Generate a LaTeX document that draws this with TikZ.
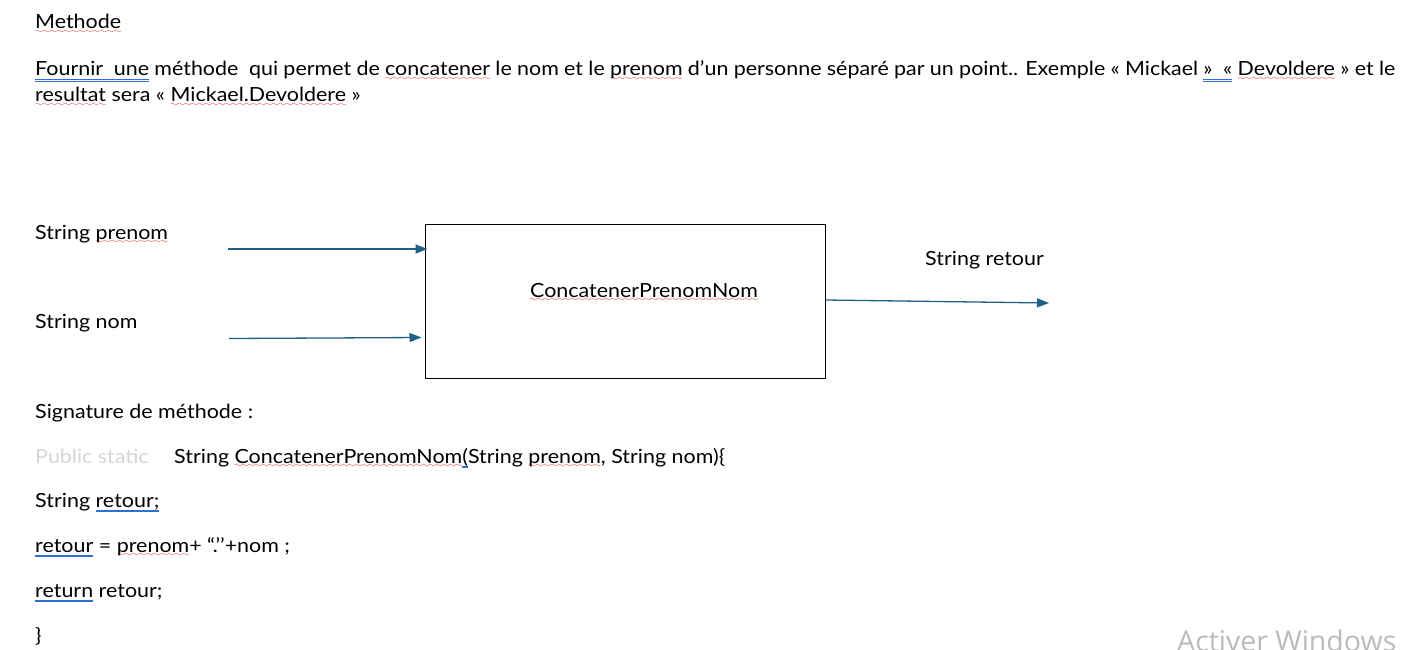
\documentclass[tikz,border=0pt]{standalone}
\usepackage{fontspec}
\setmainfont[FakeStretch=1.1]{Lato}
\newfontfamily\winfont{Open Sans}
\usetikzlibrary{arrows.meta}
\definecolor{arrowblue}{HTML}{1F6085}
\definecolor{ublue}{HTML}{2F6FD8}
\definecolor{wred}{HTML}{E02020}
\definecolor{paleg}{HTML}{D6D6D6}
\definecolor{wing}{HTML}{BBBBBB}
\font\wavefont=lasy6 at 8pt
\newsavebox\wbox
\newcommand\rw[1]{\sbox\wbox{#1}\rlap{\textcolor{wred}{\raisebox{-4.5pt}[0pt][0pt]{\hbox to \wd\wbox{\xleaders\hbox{\wavefont\char58}\hfill}}}}\usebox\wbox}
\newcommand\bb[1]{\sbox\wbox{#1}\rlap{\textcolor{ublue}{\rule[-4pt]{\wd\wbox}{1pt}}}\rlap{\textcolor{ublue}{\rule[-6.5pt]{\wd\wbox}{1pt}}}\usebox\wbox}
\newcommand\bs[1]{\sbox\wbox{#1}\rlap{\textcolor{ublue}{\rule[-4.5pt]{\wd\wbox}{1.2pt}}}\usebox\wbox}
\begin{document}
\begin{tikzpicture}[x=1pt,y=-1pt,
  txt/.style={anchor=base west,inner sep=0pt,font=\fontsize{19.5}{23}\selectfont},
  flow/.style={draw=arrowblue,line width=1.3pt,-{Triangle[length=12pt,width=9pt]}},
  procbox/.style={draw=black,line width=1pt,minimum width=400pt,minimum height=154pt,inner sep=0pt}]
\useasboundingbox (0,0) rectangle (1414,650);
\fill[white] (0,0) rectangle (1414,650);
\node[txt] (title) at (35,29) {\rw{Methode}};
\node[txt] (l1) at (35,76) {\spaceskip=5.3pt\relax\bb{Fournir\ \ une} méthode\ \ qui permet de \rw{concatener} le nom et le \rw{prenom} d’un personne séparé par un point.. Exemple « Mickael \bb{»\ \ «} \rw{Devoldere} » et le};
\node[txt] (l2) at (35,102) {\rw{resultat} sera « \rw{Mickael.Devoldere} »};
\node[txt] (inp1) at (35,239) {String \rw{prenom}};
\node[txt] (inp2) at (35,328) {String nom};
\node[procbox] (box) at (625,301) {};
\node[txt] (boxlbl) at (530,297) {\rw{ConcatenerPrenomNom}};
\node[txt] (out) at (925,265) {String retour};
\coordinate (a1s) at (228,249);
\coordinate (a2s) at (229,338.5);
\coordinate (a3e) at (1049,303);
\draw[flow] (a1s) -- ([xshift=3pt]box.west |- a1s);
\draw[flow] (a2s) -- ([xshift=-3pt]box.west |- 0,337.5);
\draw[flow] (box.east |- 0,300) -- (a3e);
\node[txt] (sig) at (35,418) {Signature de méthode :};
\node[txt,text=paleg] (pub) at (35,463) {Public static};
\node[txt] (c1) at (174,463) {String \rw{ConcatenerPrenomNom}\bs{(}String \rw{prenom}, String nom)\{};
\node[txt] (c2) at (35,507) {String \bs{retour;}};
\node[txt] (c3) at (35,552) {\bs{retour} = \rw{prenom}+ “.’’+nom ;};
\node[txt] (c4) at (35,597) {\bs{return} retour;};
\node[txt] (c5) at (35,642) {\}};
\node[anchor=base west,inner sep=0pt,text=wing,font=\winfont\fontsize{28.5}{32}\selectfont] (win) at (1177,651) {Activer Windows};
\end{tikzpicture}
\end{document}
